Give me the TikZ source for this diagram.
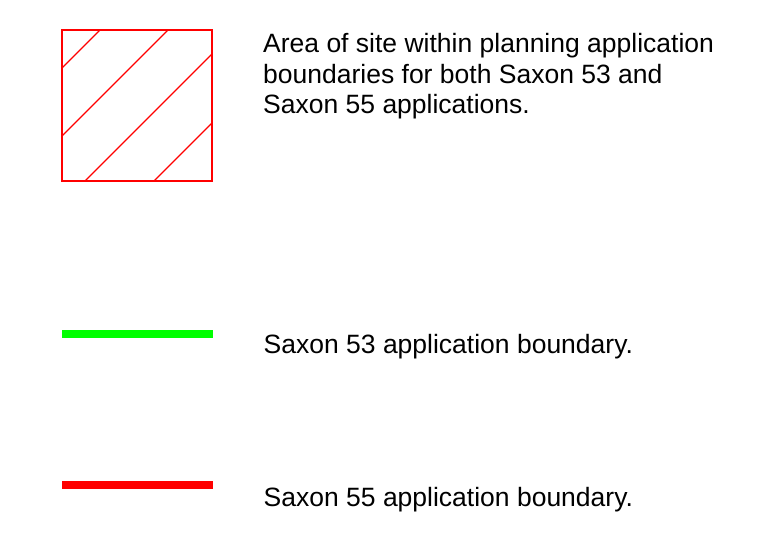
\documentclass[tikz,border=0pt]{standalone}
\usepackage{fontspec}
\setmainfont{Liberation Sans}
\definecolor{legred}{RGB}{255,0,0}
\definecolor{leggreen}{RGB}{0,255,0}
\begin{document}
\begin{tikzpicture}[x=1pt,y=-1pt,
  legtext/.style={anchor=base west,inner sep=0pt,align=left,font=\fontsize{26.5}{30.5}\selectfont},
  hatchbox/.style={draw=legred,line width=1.4pt,minimum width=150pt,minimum height=151pt,inner sep=0pt},
  hatchline/.style={draw=legred,line width=1.3pt},
  legline/.style={line width=8.3pt}]
\useasboundingbox (0,0) rectangle (764,540);
\fill[white] (0,0) rectangle (764,540);
% hatched square
\begin{scope}
  \clip (62,30) rectangle (212,181);
  \foreach \c in {130,198,266,335}{
    \draw[hatchline] (\c-200,200) -- (\c+20,-20);
  }
\end{scope}
\node[hatchbox] (sq) at (137,105.5) {};
\node[legtext] (t1) at (263,114) {Area of site within planning application\\boundaries for both Saxon 53 and\\Saxon 55 applications.};
% green line
\coordinate (g1) at (62,334.2);
\coordinate (g2) at (212.7,334.2);
\draw[legline,leggreen] (g1) -- (g2);
\node[legtext] (t2) at (263.5,353.3) {Saxon 53 application boundary.};
% red line
\coordinate (r1) at (62,485.2);
\coordinate (r2) at (212.7,485.2);
\draw[legline,legred] (r1) -- (r2);
\node[legtext] (t3) at (263.5,506.3) {Saxon 55 application boundary.};
\end{tikzpicture}
\end{document}
